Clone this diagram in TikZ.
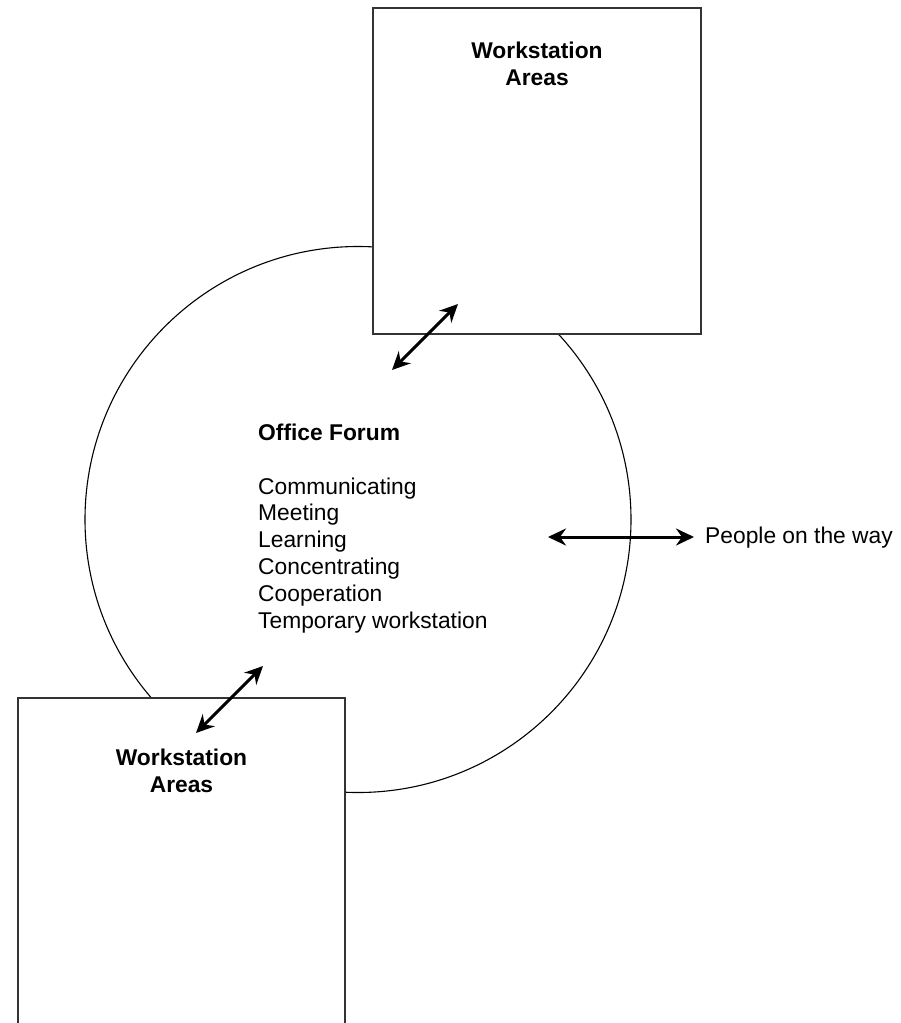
\documentclass[tikz,border=0pt]{standalone}
\usepackage{fontspec}
\setmainfont{Liberation Sans}
\usetikzlibrary{arrows.meta}
\begin{document}
\begin{tikzpicture}[x=1pt,y=-1pt,
  area/.style={draw=black!80, line width=1.3pt, fill=white, rectangle, inner sep=0pt},
  forumcircle/.style={draw=black, line width=1.1pt, circle, inner sep=0pt, minimum size=546pt},
  txt/.style={font=\fontsize{22.8}{26.8}\selectfont, inner sep=0pt, text=black},
  boldtxt/.style={txt, font=\fontsize{22.8}{27}\selectfont\bfseries, align=center},
  flow/.style={line width=3pt, {Stealth[length=18pt,width=17pt,inset=6pt]}-{Stealth[length=18pt,width=17pt,inset=6pt]}}
]
\clip (0,0) rectangle (900,1023);
\fill[white] (0,0) rectangle (900,1023);
% forum circle
\node[forumcircle] (forum) at (358,519.5) {};
% workstation areas
\node[area, minimum width=328pt, minimum height=326pt] (wsTop) at (537,171) {};
\node[area, minimum width=327pt, minimum height=342pt] (wsBot) at (181.5,869) {};
% texts (base anchor = baseline of last line)
\node[boldtxt, anchor=base] (wsTopText) at (537,85) {Workstation\\Areas};
\node[boldtxt, anchor=base] (wsBotText) at (181.5,792) {Workstation\\Areas};
\node[txt, anchor=base west, align=left] (forumText) at (258,628)
  {\textbf{Office Forum}\\[26.8pt]Communicating\\Meeting\\Learning\\Concentrating\\Cooperation\\Temporary workstation};
\node[txt, anchor=base west] (people) at (705,543) {People on the way};
% connector end points
\coordinate (aTopIn) at (392,370);
\coordinate (aTopOut) at (458,304);
\coordinate (aBotIn) at (263,666);
\coordinate (aBotOut) at (196,733);
\coordinate (aWayIn) at (548,537);
\coordinate (aWayOut) at (694,537);
% arrows
\draw[flow] (aTopIn) -- (aTopOut);
\draw[flow] (aBotOut) -- (aBotIn);
\draw[flow] (aWayIn) -- (aWayOut);
\end{tikzpicture}
\end{document}
